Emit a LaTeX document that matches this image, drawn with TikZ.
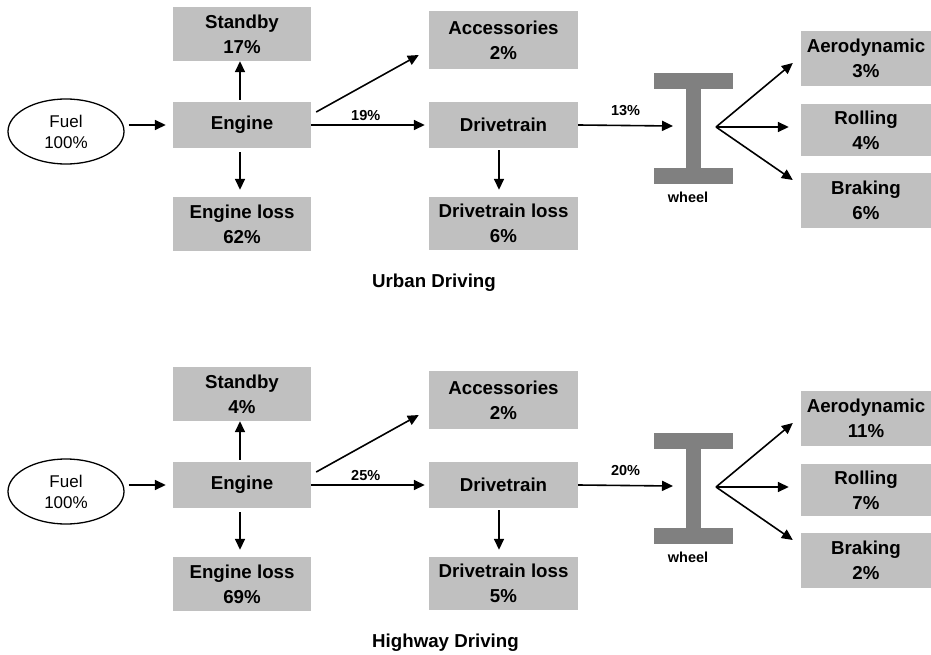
\documentclass[tikz,border=0pt]{standalone}
\usepackage{fontspec}
\setmainfont{Liberation Sans}
\usetikzlibrary{arrows.meta,shapes.geometric}
\definecolor{boxgray}{HTML}{C0C0C0}
\definecolor{beamgray}{HTML}{808080}
\begin{document}
\begin{tikzpicture}[x=1pt,y=-1pt,
  box/.style={fill=boxgray, inner sep=0pt, align=center,
    font=\fontsize{18.7}{25}\selectfont\bfseries},
  fuelnode/.style={ellipse, draw, line width=1.3pt, minimum width=116pt,
    minimum height=65pt, inner sep=0pt, align=center,
    font=\fontsize{17}{21}\selectfont},
  arr/.style={line width=1.6pt, -{Triangle[length=11pt,width=10pt]}},
  pct/.style={font=\fontsize{14.5}{17}\selectfont\bfseries, inner sep=0pt},
  sectitle/.style={font=\fontsize{18.7}{22}\selectfont\bfseries, inner sep=0pt, anchor=west}]
\useasboundingbox (0,0) rectangle (931,655);

% one energy-flow diagram per driving cycle, the second one 360pt lower
\foreach \oy/\pf/\vs/\ve/\vg/\vd/\vw/\va/\vr/\vb/\ttl in
  {0/u/17/62/19/6/13/3/4/6/Urban Driving,
   360/h/4/69/25/5/20/11/7/2/Highway Driving}{
\begin{scope}[shift={(0,\oy)}]
  % nodes
  \node[fuelnode] (\pf-fuel) at (66,131.5) {Fuel\\100\%};
  \node[box, minimum width=138pt, minimum height=54pt] (\pf-stby) at (242,34) {Standby\\\vs\%};
  \node[box, minimum width=138pt, minimum height=46pt] (\pf-eng) at (242,125) {Engine};
  \node[box, minimum width=138pt, minimum height=54pt] (\pf-eloss) at (242,224) {Engine loss\\\ve\%};
  \node[box, minimum width=149pt, minimum height=58pt] (\pf-acc) at (503.5,40) {Accessories\\2\%};
  \node[box, minimum width=149pt, minimum height=46pt] (\pf-drv) at (503.5,125) {Drivetrain};
  \node[box, minimum width=149pt, minimum height=53pt] (\pf-dloss) at (503.5,223.5) {Drivetrain loss\\\vd\%};
  \node[box, minimum width=130pt, minimum height=55pt] (\pf-aero) at (866,58.5) {Aerodynamic\\\va\%};
  \node[box, minimum width=130pt, minimum height=52pt] (\pf-roll) at (866,130) {Rolling\\\vr\%};
  \node[box, minimum width=130pt, minimum height=55pt] (\pf-brk) at (866,200.5) {Braking\\\vb\%};

  % wheel (I-beam symbol)
  \fill[beamgray] (654,73) rectangle (733,89);
  \fill[beamgray] (686,89) rectangle (701,168);
  \fill[beamgray] (654,168) rectangle (733,184);
  \node[pct] (\pf-wlab) at (688,197) {wheel};
  \coordinate (\pf-win) at (673,126);
  \coordinate (\pf-wout) at (716,127);

  % connectors
  \draw[arr] ([xshift=4pt]\pf-fuel.east |- \pf-eng.west) -- ([xshift=-7pt]\pf-eng.west);
  \draw[arr] ([xshift=-2pt,yshift=2pt]\pf-eng.north) -- ([xshift=-2pt]\pf-stby.south);
  \draw[arr] ([xshift=-2pt,yshift=-4pt]\pf-eng.south) -- ([xshift=-2pt,yshift=7pt]\pf-eloss.north);
  \draw[arr] ([xshift=5pt,yshift=13pt]\pf-eng.east) -- ([xshift=-10pt,yshift=-15pt]\pf-acc.west);
  \draw[arr] (\pf-eng.east) -- ([xshift=-4pt]\pf-drv.west)
    node[pct, pos=0.48, anchor=south, yshift=4pt] {\vg\%};
  \draw[arr] ([xshift=-4.5pt,yshift=-2pt]\pf-drv.south) -- ([xshift=-4.5pt,yshift=7pt]\pf-dloss.north);
  \draw[arr] (\pf-drv.east) -- (\pf-win)
    node[pct, pos=0.5, anchor=south, yshift=9pt] {\vw\%};
  \draw[arr] (\pf-wout) -- ([xshift=-8pt,yshift=-4.5pt]\pf-aero.west);
  \draw[arr] (\pf-wout) -- ([xshift=-12pt,yshift=3pt]\pf-roll.west);
  \draw[arr] (\pf-wout) -- ([xshift=-8pt,yshift=20.5pt]\pf-brk.west);

  % section title
  \node[sectitle] (\pf-title) at (372,283) {\ttl};
\end{scope}
}
\end{tikzpicture}
\end{document}
